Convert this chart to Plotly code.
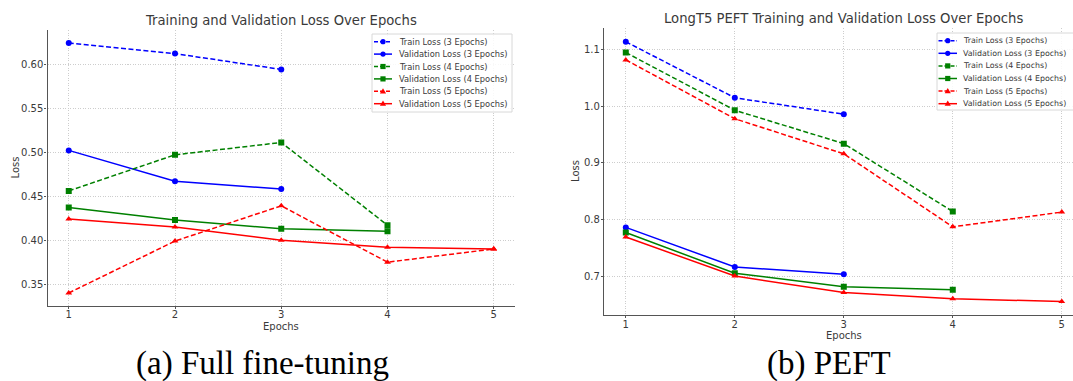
import plotly.graph_objects as go

W, H = 1073, 381

# ---------------- data ----------------
epochs = [1, 2, 3, 4, 5]

full_train_3 = [0.624, 0.612, 0.594]
full_val_3 = [0.502, 0.467, 0.458]
full_train_4 = [0.456, 0.497, 0.511, 0.417]
full_val_4 = [0.437, 0.423, 0.413, 0.410]
full_train_5 = [0.340, 0.399, 0.439, 0.375, 0.390]
full_val_5 = [0.424, 0.415, 0.400, 0.392, 0.390]

peft_train_3 = [1.114, 1.015, 0.986]
peft_val_3 = [0.786, 0.716, 0.703]
peft_train_4 = [1.095, 0.993, 0.934, 0.814]
peft_val_4 = [0.777, 0.705, 0.681, 0.676]
peft_train_5 = [1.082, 0.978, 0.916, 0.787, 0.813]
peft_val_5 = [0.769, 0.700, 0.671, 0.660, 0.655]

series_names = [
    "Train Loss (3 Epochs)", "Validation Loss (3 Epochs)",
    "Train Loss (4 Epochs)", "Validation Loss (4 Epochs)",
    "Train Loss (5 Epochs)", "Validation Loss (5 Epochs)",
]
full_series = [full_train_3, full_val_3, full_train_4, full_val_4, full_train_5, full_val_5]
peft_series = [peft_train_3, peft_val_3, peft_train_4, peft_val_4, peft_train_5, peft_val_5]

left_title = "Training and Validation Loss Over Epochs"
right_title = "LongT5 PEFT Training and Validation Loss Over Epochs"
left_caption = "(a) Full fine-tuning"
right_caption = "(b) PEFT"
x_label = "Epochs"
y_label = "Loss"

left_yticks = [0.35, 0.40, 0.45, 0.50, 0.55, 0.60]
right_yticks = [0.7, 0.8, 0.9, 1.0, 1.1]

# ---------------- styles ----------------
colors = ["#0000ff", "#0000ff", "#008000", "#008000", "#ff0000", "#ff0000"]
symbols = ["circle", "circle", "square", "square", "triangle-up", "triangle-up"]
dashes = ["5px,2.5px", "solid"] * 3
msizes = [6, 6, 6, 6, 6, 6]
TXT = "#3a3a3a"
SANS = "DejaVu Sans"


def px(x):
    return x / W


def py(y):
    return 1 - y / H


fig = go.Figure()

for axis_id, data in (("", full_series), ("2", peft_series)):
    for i, vals in enumerate(data):
        fig.add_trace(go.Scatter(
            x=epochs[:len(vals)], y=vals, name=series_names[i],
            mode="lines+markers",
            line=dict(color=colors[i], width=1.5, dash=dashes[i]),
            marker=dict(symbol=symbols[i], size=msizes[i], color=colors[i]),
            xaxis="x" + axis_id, yaxis="y" + axis_id, showlegend=False,
        ))

grid = dict(showgrid=True, gridcolor="#cdcdcd", gridwidth=0.8, griddash="1px,1.5px",
            showline=True, linecolor="#555555", linewidth=1.3, mirror=False,
            zeroline=False, ticks="outside", ticklen=2, tickcolor="#555555",
            tickfont=dict(family=SANS, size=10, color=TXT))

fig.update_layout(
    width=W, height=H, autosize=False,
    margin=dict(l=0, r=0, t=0, b=0),
    paper_bgcolor="white", plot_bgcolor="white",
    xaxis=dict(domain=[px(47.5), px(515)], range=[0.8, 5.2], tickvals=epochs,
               anchor="y", ticklabelstandoff=-3, **grid),
    yaxis=dict(domain=[py(306), py(30)], range=[0.3252, 0.6388], tickvals=left_yticks,
               tickformat=".2f", anchor="x", ticklabelstandoff=-1, **grid),
    xaxis2=dict(domain=[px(604), 1.0], range=[0.8, 5.103], tickvals=epochs,
                anchor="y2", ticklabelstandoff=-2, **grid),
    yaxis2=dict(domain=[py(314.7), py(28.3)], range=[0.6317, 1.1378], tickvals=right_yticks,
                tickformat=".1f", anchor="x2", ticklabelstandoff=-1, **grid),
)

annotations = []
shapes = []


def text(s, x, y, size, color=TXT, family=SANS, xanchor="center", angle=0):
    annotations.append(dict(text=s, x=px(x), y=py(y), xref="paper", yref="paper",
                            showarrow=False, xanchor=xanchor, yanchor="middle",
                            textangle=angle,
                            font=dict(family=family, size=size, color=color)))


# titles, axis labels, captions
text(left_title, 281, 20.5, 13.2)
text(right_title, 843.5, 19, 13.2)
text(x_label, 281, 326, 10)
text(x_label, 843.5, 335, 10)
text(y_label, 14.5, 168, 10, angle=-90)
text(y_label, 575.5, 171.5, 10, angle=-90)
text(left_caption, 262, 363, 33, color="black", family="Liberation Serif")
text(right_caption, 829, 363, 33, color="black", family="Liberation Serif")


def marker_shape(sym, cx, cy, color, r=3):
    base = dict(xref="paper", yref="paper", xsizemode="pixel", ysizemode="pixel",
                xanchor=px(cx), yanchor=py(cy), fillcolor=color,
                line=dict(color=color, width=0), layer="above")
    if sym == "circle":
        base.update(type="circle", x0=-r, x1=r, y0=-r, y1=r)
    elif sym == "square":
        base.update(type="rect", x0=-r, x1=r, y0=-r, y1=r)
    else:
        base.update(type="path", path=f"M {-r - 0.5},{-r + 0.5} L {r + 0.5},{-r + 0.5} L 0,{r + 0.5} Z")
    shapes.append(base)


def legend(box, row0, step, lx0, lx1, tx, fsize):
    x0, y0, x1, y1 = box
    shapes.append(dict(type="rect", xref="paper", yref="paper",
                       x0=px(x0), x1=px(x1), y0=py(y0), y1=py(y1),
                       fillcolor="rgba(255,255,255,0.85)",
                       line=dict(color="#d8d8d8", width=1), layer="above"))
    for i, name in enumerate(series_names):
        yy = row0 + step * i
        shapes.append(dict(type="line", xref="paper", yref="paper",
                           x0=px(lx0), x1=px(lx1), y0=py(yy), y1=py(yy),
                           line=dict(color=colors[i], width=1.5,
                                     dash="solid" if dashes[i] == "solid" else "4px,2px"),
                           layer="above"))
        marker_shape(symbols[i], (lx0 + lx1) / 2, yy, colors[i], r=2.6)
        text(name, tx, yy, fsize, xanchor="left")


legend((372, 34, 512, 112), 41.7, 12.4, 374, 392, 397, 8.3)
legend((937, 33, 1090, 110), 40.7, 12.6, 938.5, 957, 961, 7.9)

fig.update_layout(annotations=annotations, shapes=shapes)
fig.write_html("out.html")
